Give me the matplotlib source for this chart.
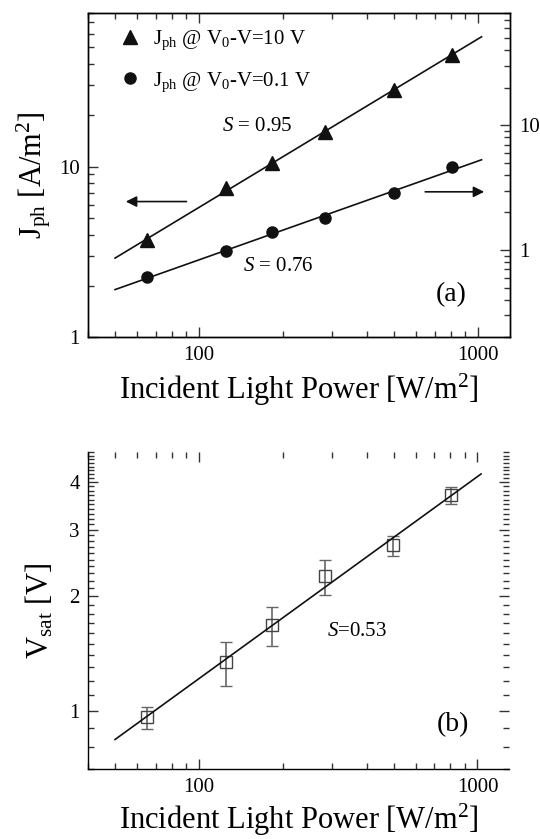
import numpy as np
import matplotlib
matplotlib.use('Agg')
import matplotlib.pyplot as plt
from matplotlib.ticker import FixedLocator, LogLocator, MultipleLocator, NullFormatter

plt.rcParams['font.family'] = ['Liberation Serif', 'DejaVu Serif']
plt.rcParams['mathtext.fontset'] = 'custom'
plt.rcParams['mathtext.rm'] = 'Liberation Serif'
plt.rcParams['mathtext.it'] = 'Liberation Serif:italic'
plt.rcParams['axes.linewidth'] = 1.0

# ==========
# data
# ==========
power = [65, 125, 183, 284, 499, 805]  # incident light power [W/m^2]
j_ph_10V = [3.7, 7.45, 10.5, 15.9, 28.2, 45.3]  # left axis
j_ph_01V = [0.61, 0.975, 1.39, 1.81, 2.85, 4.62]  # right axis
v_sat = [0.96, 1.34, 1.68, 2.26, 2.73, 3.70]
v_sat_lo = [0.893, 1.162, 1.48, 2.02, 2.56, 3.51]
v_sat_hi = [1.025, 1.516, 1.88, 2.49, 2.88, 3.88]
fit_range = [50, 1030]

x_ticks = [100, 1000]
x_ticklabels = ['100', '1000']


def power_fit(x, y):
    p = np.polyfit(np.log10(x), np.log10(y), 1)
    xf = np.array(fit_range, dtype=float)
    return xf, 10**np.polyval(p, np.log10(xf))


fig = plt.figure(figsize=(5.4, 8.39), dpi=100)

# ==========
# panel (a)
# ==========
ax = fig.add_axes([0.163, 0.598, 0.781, 0.387])
ax2 = ax.twinx()
for a in (ax, ax2):
    a.set_xscale('log')
    a.set_yscale('log')
ax.set_xlim(40, 1300)
ax.set_ylim(1, 80)
ax2.set_ylim(0.2, 80)

xf, yf = power_fit(power, j_ph_10V)
ax.plot(xf, yf, color='#111111', lw=1.2)
tri, = ax.plot(power, j_ph_10V, '^', color='#111111', ms=10, ls='none')
xf, yf = power_fit(power, j_ph_01V)
ax2.plot(xf, yf, color='#111111', lw=1.2)
circ, = ax2.plot(power, j_ph_01V, 'o', color='#111111', ms=8, ls='none')

ax.legend([tri, circ],
          [r'J$_{\mathrm{ph}}$ @ V$_{0}$-V=10 V',
           r'J$_{\mathrm{ph}}$ @ V$_{0}$-V=0.1 V'],
          loc='upper left', bbox_to_anchor=(0.04, 0.995), frameon=False,
          fontsize=15, labelspacing=0.85, handlelength=1.0,
          handletextpad=0.6, borderaxespad=0.3)

ax.annotate('', xy=(0.083, 0.418), xytext=(0.24, 0.418),
            xycoords='axes fraction',
            arrowprops=dict(arrowstyle='-|>', color='#111111', lw=1.2,
                            mutation_scale=16))
ax.annotate('', xy=(0.946, 0.448), xytext=(0.793, 0.448),
            xycoords='axes fraction',
            arrowprops=dict(arrowstyle='-|>', color='#111111', lw=1.2,
                            mutation_scale=16))
ax.text(0.318, 0.648, r'$S$ = 0.95', transform=ax.transAxes, fontsize=15,
        va='center')
ax.text(0.367, 0.217, r'$S$ = 0.76', transform=ax.transAxes, fontsize=15,
        va='center')
ax.text(0.86, 0.13, '(a)', transform=ax.transAxes, fontsize=20,
        ha='center', va='center')

ax.xaxis.set_major_locator(FixedLocator(x_ticks))
ax.set_xticklabels(x_ticklabels)
ax.xaxis.set_minor_locator(LogLocator(base=10, subs=np.arange(2, 10)))
ax.xaxis.set_minor_formatter(NullFormatter())
ax.yaxis.set_major_locator(FixedLocator([1, 10]))
ax.set_yticklabels(['1', '10'])
ax.yaxis.set_minor_locator(LogLocator(base=10, subs=np.arange(2, 10)))
ax.yaxis.set_minor_formatter(NullFormatter())
ax2.yaxis.set_major_locator(FixedLocator([1, 10]))
ax2.set_yticklabels(['1', '10'])
ax2.yaxis.set_minor_locator(LogLocator(base=10, subs=np.arange(2, 10)))
ax2.yaxis.set_minor_formatter(NullFormatter())

ax.tick_params(which='both', direction='in', top=True, right=False,
               labelsize=15, pad=6, color='#333333')
ax2.tick_params(which='both', direction='in', labelsize=15, pad=7,
                color='#333333')
for a in (ax, ax2):
    a.tick_params(which='major', length=7, width=1.0)
    a.tick_params(which='minor', length=4, width=1.0)

ax.set_xlabel(r'Incident Light Power [W/m$^2$]', fontsize=22, labelpad=5)
ax.set_ylabel(r'J$_{\mathrm{ph}}$ [A/m$^2$]', fontsize=22, labelpad=4)

# ==========
# panel (b)
# ==========
bx = fig.add_axes([0.163, 0.083, 0.78, 0.378])
bx.set_xscale('log')
bx.set_yscale('log')
bx.set_xlim(40, 1300)
bx.set_ylim(0.7, 4.8)

v_sat_arr = np.array(v_sat)
yerr = [v_sat_arr - np.array(v_sat_lo), np.array(v_sat_hi) - v_sat_arr]
xf, yf = power_fit(power, v_sat)
bx.plot(xf, yf, color='#111111', lw=1.2, zorder=3)
bx.errorbar(power, v_sat, yerr=yerr, fmt='s', ms=9, mfc='none',
            mec='#444444', mew=1.0, ecolor='#666666', elinewidth=1.2,
            capsize=4, capthick=1.2, zorder=2)

bx.text(0.567, 0.434, r'$S$=0.53', transform=bx.transAxes, fontsize=15,
        va='center')
bx.text(0.867, 0.142, '(b)', transform=bx.transAxes, fontsize=20,
        ha='center', va='center')

bx.spines['top'].set_visible(False)
bx.spines['right'].set_visible(False)
bx.xaxis.set_major_locator(FixedLocator(x_ticks))
bx.set_xticklabels(x_ticklabels)
bx.xaxis.set_minor_locator(LogLocator(base=10, subs=np.arange(2, 10)))
bx.xaxis.set_minor_formatter(NullFormatter())
bx.yaxis.set_major_locator(FixedLocator([1, 2, 3, 4]))
bx.set_yticklabels(['1', '2', '3', '4'])
bx.yaxis.set_minor_locator(MultipleLocator(0.1))
bx.yaxis.set_minor_formatter(NullFormatter())
bx.tick_params(which='both', direction='in', top=True, right=True,
               labelsize=15, pad=6, color='#333333')
bx.tick_params(which='major', length=7, width=1.0)
bx.tick_params(which='minor', length=4, width=1.0)

bx.set_xlabel(r'Incident Light Power [W/m$^2$]', fontsize=22, labelpad=4)
bx.set_ylabel(r'V$_{\mathrm{sat}}$ [V]', fontsize=22, labelpad=10)

fig.savefig('out.png', dpi=100)
